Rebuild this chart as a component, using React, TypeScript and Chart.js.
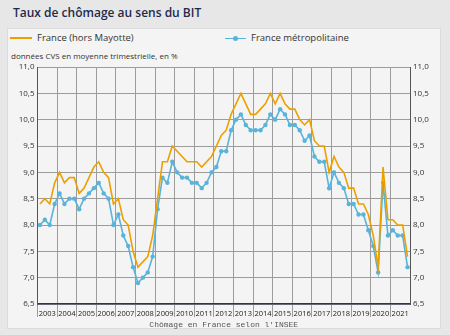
import { useEffect, useRef } from 'react';
import { Chart, registerables } from 'chart.js';

Chart.register(...registerables);

const years = ['2003','2004','2005','2006','2007','2008','2009','2010','2011','2012','2013','2014','2015','2016','2017','2018','2019','2020','2021'];
const quarterNames = ['T1','T2','T3','T4'];
const quarters = years.flatMap((y) => quarterNames.map((q) => `${y} ${q}`));

const franceHorsMayotte = [
  8.4, 8.5, 8.4, 8.8, 9.0, 8.8, 8.9, 8.9, 8.6, 8.7, 8.9, 9.1, 9.2, 9.0, 8.9, 8.4,
  8.5, 8.1, 8.0, 7.5, 7.2, 7.3, 7.4, 7.8, 8.5, 9.2, 9.2, 9.5, 9.4, 9.3, 9.2, 9.2,
  9.2, 9.1, 9.2, 9.3, 9.5, 9.7, 9.8, 10.1, 10.3, 10.5, 10.3, 10.1, 10.1, 10.2, 10.3, 10.5,
  10.3, 10.5, 10.3, 10.2, 10.2, 10.0, 9.9, 10.0, 9.6, 9.5, 9.5, 9.0, 9.3, 9.1, 9.0, 8.7,
  8.7, 8.4, 8.4, 8.2, 7.8, 7.2, 9.1, 8.1, 8.1, 8.0, 8.0, 7.4,
];
const franceMetropolitaine = [
  8.0, 8.1, 8.0, 8.4, 8.6, 8.4, 8.5, 8.5, 8.3, 8.5, 8.6, 8.7, 8.8, 8.6, 8.5, 8.0,
  8.2, 7.8, 7.6, 7.2, 6.9, 7.0, 7.1, 7.4, 8.3, 8.9, 8.8, 9.2, 9.0, 8.9, 8.9, 8.8,
  8.8, 8.7, 8.8, 9.0, 9.1, 9.4, 9.4, 9.8, 10.0, 10.1, 9.9, 9.8, 9.8, 9.8, 9.9, 10.1,
  10.0, 10.2, 10.1, 9.9, 9.9, 9.8, 9.6, 9.7, 9.3, 9.2, 9.2, 8.7, 9.0, 8.8, 8.7, 8.4,
  8.4, 8.2, 8.2, 7.9, 7.6, 7.1, 8.8, 7.8, 7.9, 7.8, 7.8, 7.2,
];
const yMin = 6.5;
const yMax = 11;
const yStep = 0.5;

const ORANGE = '#eba000';
const BLUE = '#5ab3d8';
const GRID = '#9c9c9c';
const FONT = "'Open Sans', 'DejaVu Sans', sans-serif";

const fmt = (v: number) => Number(v).toFixed(1).replace('.', ',');

export default function App() {
  const ref = useRef<HTMLCanvasElement | null>(null);

  useEffect(() => {
    if (!ref.current) return;
    const yearGrid = (ctx: any) => (ctx.index % 4 === 0 ? GRID : 'rgba(0,0,0,0)');
    const chart = new Chart(ref.current, {
      type: 'line',
      data: {
        labels: quarters,
        datasets: [
          {
            label: 'France (hors Mayotte)',
            data: franceHorsMayotte,
            borderColor: ORANGE,
            backgroundColor: ORANGE,
            borderWidth: 1.6,
            pointRadius: 0,
            tension: 0,
            yAxisID: 'y',
          },
          {
            label: 'France métropolitaine',
            data: franceMetropolitaine,
            borderColor: BLUE,
            backgroundColor: BLUE,
            borderWidth: 1.6,
            pointRadius: 2.2,
            pointBorderWidth: 0,
            tension: 0,
            yAxisID: 'y',
          },
        ],
      },
      options: {
        animation: false,
        responsive: false,
        layout: { padding: { top: 67, bottom: 5, left: 0, right: 0 } },
        plugins: {
          legend: { display: false },
          tooltip: { enabled: false },
        },
        scales: {
          x: {
            type: 'category',
            offset: true,
            grid: {
              offset: true,
              color: yearGrid,
              tickColor: yearGrid,
              tickLength: 13,
              lineWidth: 1,
            },
            border: { color: '#2f3550', width: 1.5 },
            ticks: {
              autoSkip: false,
              maxRotation: 0,
              minRotation: 0,
              padding: -8,
              labelOffset: -2.45,
              color: '#222',
              font: { family: FONT, size: 7.5 },
              callback: (_v: any, i: number) => (i % 4 === 2 ? years[Math.floor(i / 4)] : ''),
            },
            title: {
              display: true,
              text: "Chômage en France selon l'INSEE",
              color: '#555',
              padding: { top: 0, bottom: 0 },
              font: { family: "'Liberation Mono', 'DejaVu Sans Mono', monospace", size: 8 },
            },
            afterFit: (s: any) => {
              s.height = 26;
            },
          },
          y: {
            position: 'left',
            min: yMin,
            max: yMax,
            grid: { color: GRID, drawTicks: false },
            border: { color: '#555', width: 1 },
            ticks: {
              stepSize: yStep,
              padding: 3,
              color: '#333',
              font: { family: FONT, size: 8 },
              callback: (v: any) => fmt(v),
            },
            afterFit: (s: any) => {
              s.width = 37.5;
            },
          },
          y2: {
            position: 'right',
            min: yMin,
            max: yMax,
            grid: { drawOnChartArea: false, drawTicks: false },
            border: { color: '#555', width: 1 },
            ticks: {
              stepSize: yStep,
              padding: 3,
              color: '#333',
              font: { family: FONT, size: 8 },
              callback: (v: any) => fmt(v),
            },
            afterFit: (s: any) => {
              s.width = 40;
            },
          },
        },
      },
    });
    return () => chart.destroy();
  }, []);

  return (
    <div style={{ position: 'absolute', left: 0, top: 0, width: 450, height: 335, background: '#e7e7e7', overflow: 'hidden', fontFamily: FONT }}>
      <div style={{ position: 'absolute', left: 13, top: 4, fontSize: 12, fontWeight: 600, color: '#1d2b4c' }}>
        Taux de chômage au sens du BIT
      </div>
      <div style={{ position: 'absolute', left: 7, top: 28, width: 434, height: 301, background: '#f4f4f4', border: '1px solid #dcdcdc', boxSizing: 'border-box' }} />
      <div style={{ position: 'absolute', left: 10, top: 37, width: 22, height: 2, background: ORANGE }} />
      <div style={{ position: 'absolute', left: 37, top: 31, fontSize: 9.5, color: '#333', lineHeight: '14px' }}>France (hors Mayotte)</div>
      <div style={{ position: 'absolute', left: 225, top: 37.5, width: 21, height: 1.5, background: BLUE }} />
      <div style={{ position: 'absolute', left: 233, top: 36, width: 5, height: 5, borderRadius: '50%', background: BLUE }} />
      <div style={{ position: 'absolute', left: 251, top: 31, fontSize: 9.5, color: '#333', lineHeight: '14px' }}>France métropolitaine</div>
      <div style={{ position: 'absolute', left: 11, top: 50, fontSize: 8, color: '#333', lineHeight: '12px' }}>données CVS en moyenne trimestrielle, en %</div>
      <canvas ref={ref} width={450} height={335} style={{ position: 'absolute', left: 0, top: 0, width: 450, height: 335 }} />
    </div>
  );
}
